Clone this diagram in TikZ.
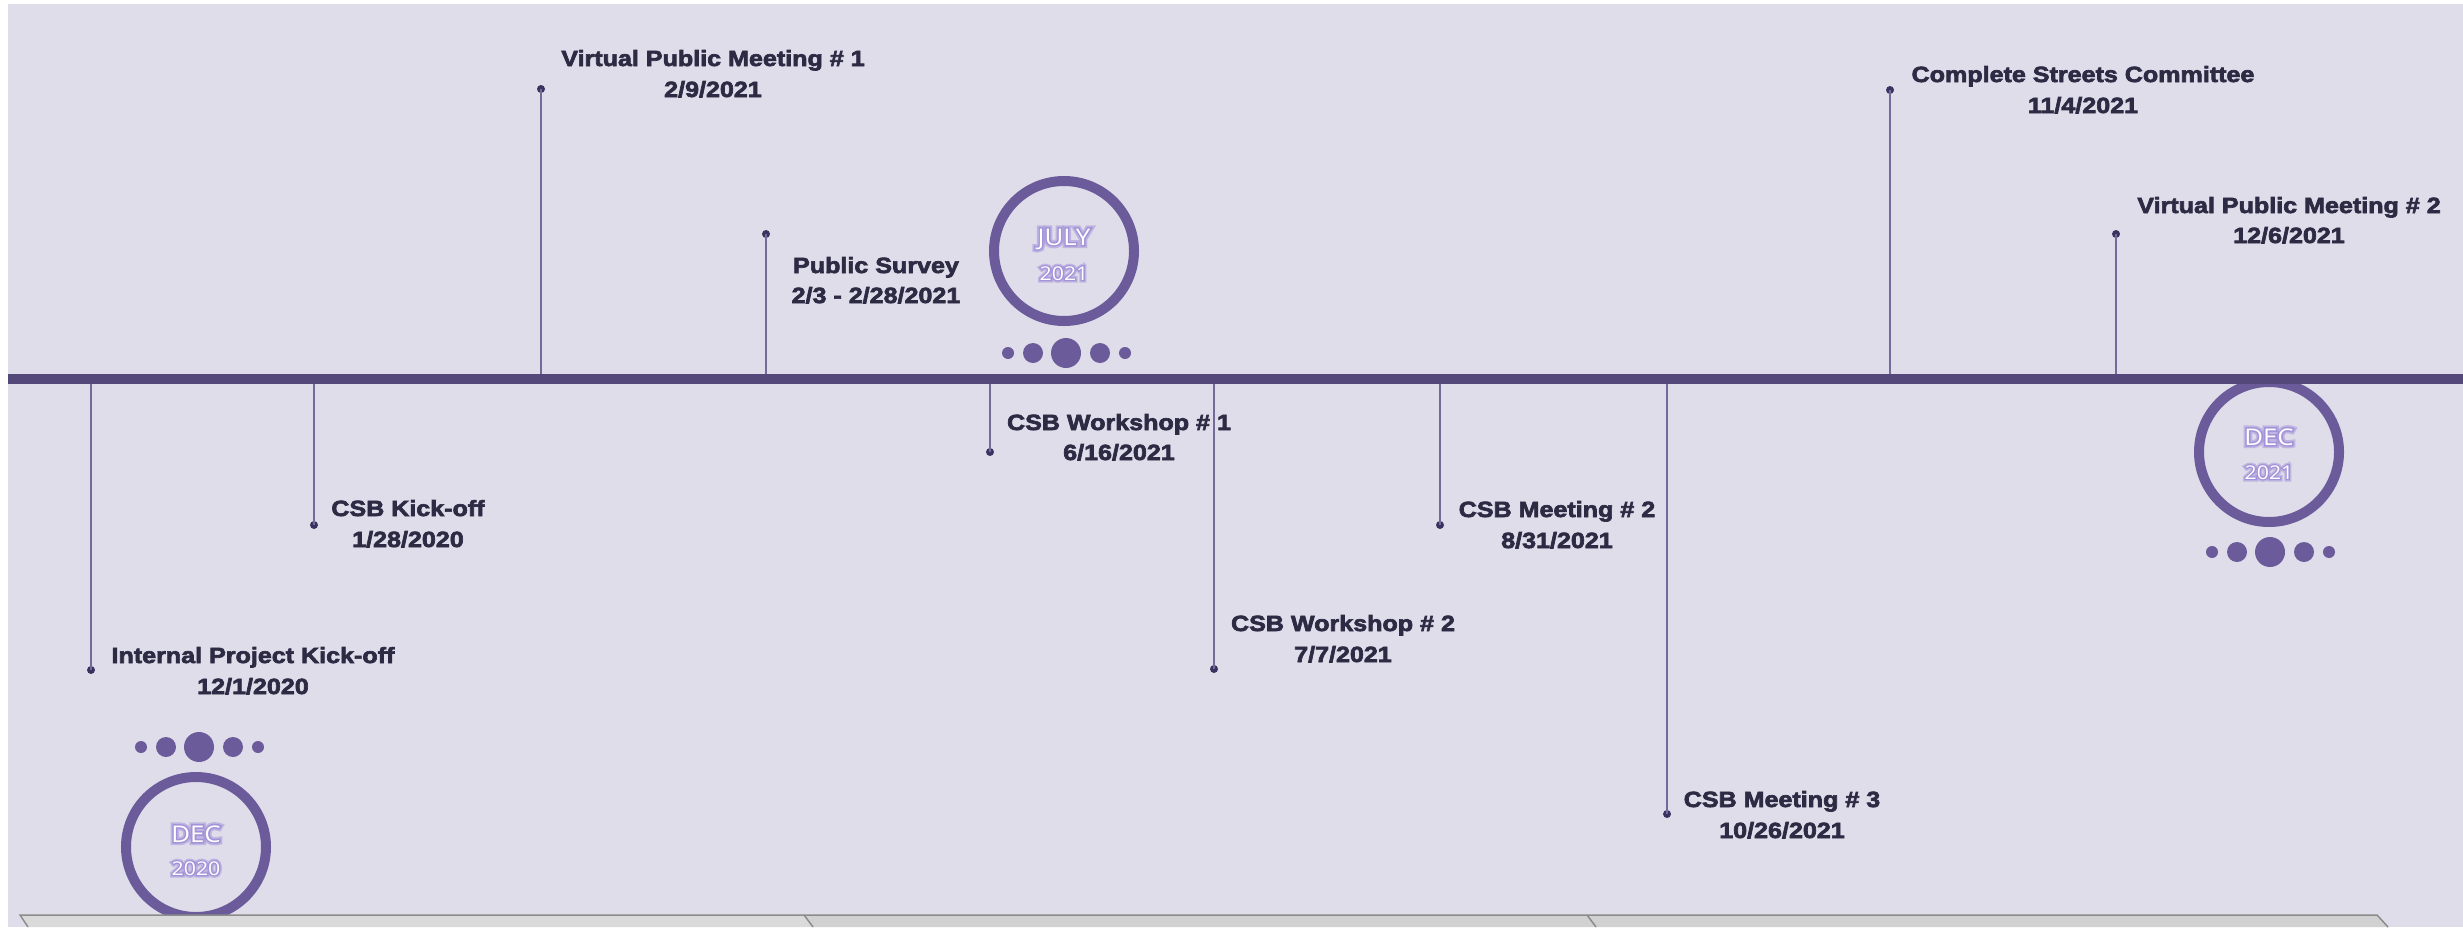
\documentclass[tikz,border=0pt]{standalone}
\usepackage{fontspec}
\setmainfont{Liberation Sans}[FakeStretch=1.14,BoldFeatures={FakeBold=3}]
\newfontfamily\monthfont{Open Sans}[FakeStretch=1.12]
\newfontfamily\monthglowfont{Open Sans}[FakeStretch=1.12,FakeBold=28]
\newfontfamily\monthglowfontB{Open Sans}[FakeStretch=1.12,FakeBold=13]
\definecolor{bgc}{HTML}{DFDDEA}
\definecolor{linec}{HTML}{54487A}
\definecolor{stemc}{HTML}{75699A}
\definecolor{pinc}{HTML}{3A3360}
\definecolor{ringc}{HTML}{6B5B9B}
\definecolor{txtc}{HTML}{2D2A44}
\definecolor{glowc}{HTML}{9F8ED8}
\definecolor{barA}{HTML}{DADADA}
\definecolor{barB}{HTML}{D1D1D1}
\definecolor{barline}{HTML}{8C8C8C}
\tikzset{
  mainline/.style={draw=linec, line width=10bp},
  stem/.style={draw=stemc, line width=2bp},
  pin/.style={circle, fill=pinc, inner sep=0pt, minimum size=8bp},
  evtitle/.style={font=\fontsize{22bp}{26bp}\selectfont\bfseries, text=txtc, anchor=base, inner sep=0pt},
  ring/.style={circle, draw=ringc, line width=10bp, inner sep=0pt, minimum size=140bp},
  bead/.style={circle, fill=ringc, inner sep=0pt},
  monthbig/.style={font=\fontsize{23bp}{26bp}\monthfont, text=white, anchor=base, inner sep=0pt},
  monthsmall/.style={font=\fontsize{19bp}{22bp}\monthfont, text=white, anchor=base, inner sep=0pt},
  glowbig/.style={font=\fontsize{23bp}{26bp}\monthglowfont, text=glowc, opacity=0.5, anchor=base, inner sep=0pt},
  glowsmall/.style={font=\fontsize{19bp}{22bp}\monthglowfont, text=glowc, opacity=0.5, anchor=base, inner sep=0pt},
  glowbigB/.style={font=\fontsize{23bp}{26bp}\monthglowfontB, text=glowc, opacity=0.85, anchor=base, inner sep=0pt},
  glowsmallB/.style={font=\fontsize{19bp}{22bp}\monthglowfontB, text=glowc, opacity=0.85, anchor=base, inner sep=0pt},
  barborder/.style={draw=barline, line width=1.5bp},
}
\begin{document}
\begin{tikzpicture}[x=1bp,y=-1bp]
\fill[white] (0,0) rectangle (2463,927);
\fill[bgc] (8,4) rectangle (2463,927);
\useasboundingbox (0,0) rectangle (2463,927);

% month rings
\node[ring] (c1) at (196,847) {};
\node[ring] (c2) at (1064,251) {};
\node[ring] (c3) at (2269,452) {};

% beads
\foreach \cx/\cy/\nm in {199/747/a,1066/353/b,2270/552/c}{
  \node[bead, minimum size=12bp] (\nm1) at (\cx-58,\cy) {};
  \node[bead, minimum size=20bp] (\nm2) at (\cx-33,\cy) {};
  \node[bead, minimum size=30bp] (\nm3) at (\cx,\cy) {};
  \node[bead, minimum size=20bp] (\nm4) at (\cx+34,\cy) {};
  \node[bead, minimum size=12bp] (\nm5) at (\cx+59,\cy) {};
}

% month texts (glow layers + white)
\foreach \nm/\mx/\my/\yy/\mt/\yt in {1/196/842/875/DEC/2020,2/1064/245/280/JULY/2021,3/2269/445/479/DEC/2021}{
  \node[glowbig] (ga\nm) at (\mx,\my) {\mt};
  \node[glowbigB] (gb\nm) at (\mx,\my) {\mt};
  \node[monthbig] (m\nm) at (\mx,\my) {\mt};
  \node[glowsmall] (gy\nm) at (\mx,\yy) {\yt};
  \node[glowsmallB] (gz\nm) at (\mx,\yy) {\yt};
  \node[monthsmall] (y\nm) at (\mx,\yy) {\yt};
}

% stems and pins
\foreach \i/\sx/\sy in {1/91/670,2/314/525,3/541/89,4/766/234,5/990/452,6/1214/669,7/1440/525,8/1667/814,9/1890/90,10/2116/234}{
  \coordinate (b\i) at (\sx,379);
  \node[pin] (p\i) at (\sx,\sy) {};
  \draw[stem] (b\i) -- (p\i.center);
}

% main timeline
\coordinate (L) at (8,379);
\coordinate (R) at (2463,379);
\draw[mainline] (L) -- (R);

% event labels
\node[evtitle] (t1) at (253,663) {Internal Project Kick-off};
\node[evtitle] (d1) at (253,694) {12/1/2020};
\node[evtitle] (t2) at (408,516) {CSB Kick-off};
\node[evtitle] (d2) at (408,547) {1/28/2020};
\node[evtitle] (t3) at (713,66) {Virtual Public Meeting \# 1};
\node[evtitle] (d3) at (713,97) {2/9/2021};
\node[evtitle] (t4) at (876,273) {Public Survey};
\node[evtitle] (d4) at (876,303) {2/3 - 2/28/2021};
\node[evtitle] (t5) at (1119,430) {CSB Workshop \# 1};
\node[evtitle] (d5) at (1119,460) {6/16/2021};
\node[evtitle] (t6) at (1343,631) {CSB Workshop \# 2};
\node[evtitle] (d6) at (1343,662) {7/7/2021};
\node[evtitle] (t7) at (1557,517) {CSB Meeting \# 2};
\node[evtitle] (d7) at (1557,548) {8/31/2021};
\node[evtitle] (t8) at (1782,807) {CSB Meeting \# 3};
\node[evtitle] (d8) at (1782,838) {10/26/2021};
\node[evtitle] (t9) at (2083,82) {Complete Streets Committee};
\node[evtitle] (d9) at (2083,113) {11/4/2021};
\node[evtitle] (t10) at (2289,213) {Virtual Public Meeting \# 2};
\node[evtitle] (d10) at (2289,243) {12/6/2021};

% bottom bar
\fill[barA] (20,915) -- (804,915) -- (813,927) -- (28,927) -- cycle;
\fill[barB] (804,915) -- (1587,915) -- (1596,927) -- (813,927) -- cycle;
\fill[barB] (1587,915) -- (2377,915) -- (2388,927) -- (1596,927) -- cycle;
\draw[barborder] (28,927) -- (20,915) -- (2377,915) -- (2388,927);
\draw[barborder] (804,915) -- (813,927);
\draw[barborder] (1587,915) -- (1596,927);
\end{tikzpicture}
\end{document}
